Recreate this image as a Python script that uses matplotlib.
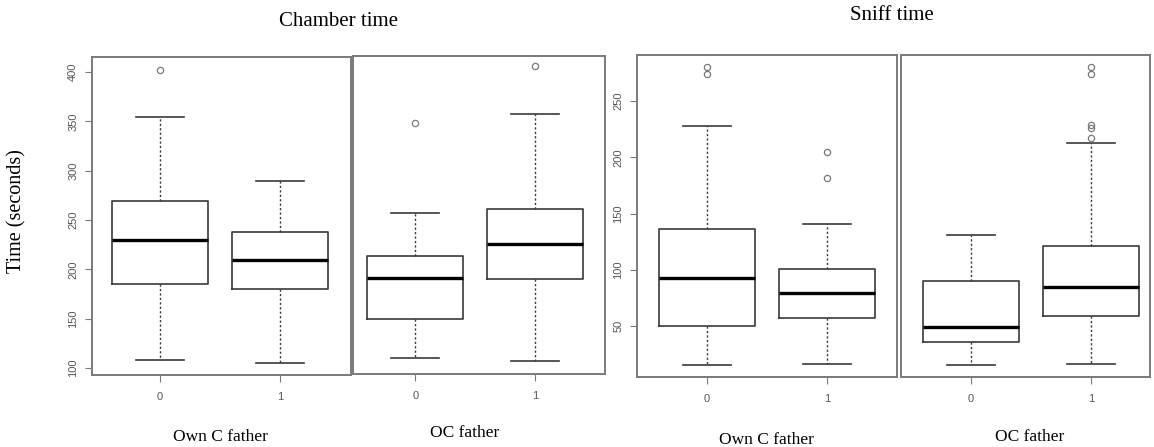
import matplotlib
matplotlib.use("Agg")
import matplotlib.pyplot as plt

groups = [0, 1]
group_labels = ["0", "1"]
panel_titles = ["Chamber time", "Sniff time"]
sub_labels = ["Own C father", "OC father"]

# boxes: whisker low, q1, median, q3, whisker high
chamber_own = [[108, 185, 230, 269, 354], [105, 180, 209, 238, 290]]
chamber_own_out = [[402], []]
chamber_oc = [[109, 149, 190, 212, 256], [106, 189, 225, 260, 356]]
chamber_oc_out = [[347], [405]]
sniff_own = [[15, 50, 93, 136, 228], [16, 57, 79, 101, 141]]
sniff_own_out = [[274, 280], [182, 205]]
sniff_oc = [[15, 36, 49, 90, 131], [16, 59, 85, 121, 213]]
sniff_oc_out = [[], [217, 226, 229, 274, 280]]

chamber_ticks = [100, 150, 200, 250, 300, 350, 400]
sniff_ticks = [50, 100, 150, 200, 250]


def make_stats(boxes, outliers):
    stats = []
    for b, out in zip(boxes, outliers):
        stats.append(dict(whislo=b[0], q1=b[1], med=b[2], q3=b[3], whishi=b[4], fliers=out))
    return stats


W, H = 1154, 447
fig = plt.figure(figsize=(W / 100, H / 100), dpi=100)


def px_axes(x0, x1, ytop, ybot):
    return fig.add_axes([x0 / W, (H - ybot) / H, (x1 - x0) / W, (ybot - ytop) / H])


gray = "#7a7a7a"
boxc = "#3a3a3a"

panels = [
    # (frame px, xlim, ylim, data, outliers, yticks)
    ((92, 351, 57, 375), (-0.567, 1.59), (92.9, 415.2), chamber_own, chamber_own_out, chamber_ticks),
    ((353, 605, 56, 374), (-0.52, 1.58), (92.9, 415.2), chamber_oc, chamber_oc_out, None),
    ((637, 897, 55, 377), (-0.583, 1.583), (4.7, 291), sniff_own, sniff_own_out, sniff_ticks),
    ((901, 1150, 55, 377), (-0.583, 1.49), (4.7, 291), sniff_oc, sniff_oc_out, None),
]

for frame, xlim, ylim, data, outs, yticks in panels:
    ax = px_axes(frame[0], frame[1], frame[2], frame[3])
    ax.bxp(make_stats(data, outs), positions=groups, widths=0.8, capwidths=0.4,
           boxprops=dict(color=boxc, linewidth=1.2),
           medianprops=dict(color="black", linewidth=2.4),
           whiskerprops=dict(color=boxc, linewidth=1.0, linestyle=(0, (1.6, 1.6))),
           capprops=dict(color=boxc, linewidth=1.2),
           flierprops=dict(marker="o", markersize=4.5, markerfacecolor="none",
                           markeredgecolor=gray, markeredgewidth=0.9))
    ax.set_xlim(*xlim)
    ax.set_ylim(*ylim)
    ax.set_xticks(groups)
    ax.set_xticklabels(group_labels, family="Liberation Sans")
    for s in ax.spines.values():
        s.set_color(gray)
        s.set_linewidth(1.4)
    ax.tick_params(axis="x", direction="out", length=5, color=gray, labelsize=8,
                   labelcolor="#555555", pad=7)
    if yticks is None:
        ax.tick_params(axis="y", left=False, labelleft=False)
    else:
        ax.set_yticks(yticks)
        ax.set_yticklabels([str(t) for t in yticks], family="Liberation Sans", rotation=90, va="center")
        ax.tick_params(axis="y", direction="out", length=5, color=gray, labelsize=8,
                       labelcolor="#555555", pad=5)

serif = "Liberation Serif"
fig.text(338 / W, (H - 22) / H, panel_titles[0], family=serif, fontsize=15, ha="center", va="center")
fig.text(892 / W, (H - 16) / H, panel_titles[1], family=serif, fontsize=15, ha="center", va="center")
fig.text(17 / W, (H - 211) / H, "Time (seconds)", family=serif, fontsize=14.5, rotation=90,
         ha="center", va="center")
for x, y, lab in [(220, 437, sub_labels[0]), (465, 433, sub_labels[1]),
                  (766, 440, sub_labels[0]), (1030, 437, sub_labels[1])]:
    fig.text(x / W, (H - y) / H, lab, family=serif, fontsize=12.5, ha="center", va="center")

fig.savefig("out.png", dpi=100, facecolor="white")
